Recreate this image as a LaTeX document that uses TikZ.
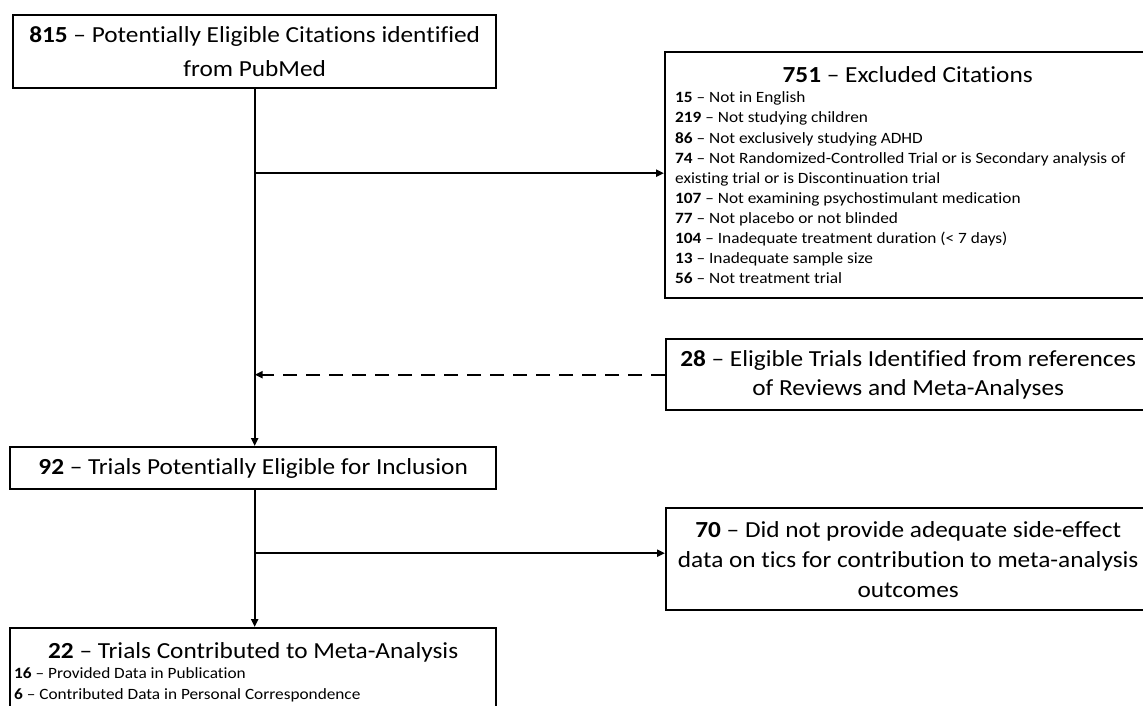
\documentclass[tikz,border=0pt]{standalone}
\usepackage{fontspec}
\setmainfont{Carlito}[FakeStretch=1.1, Ligatures=NoCommon]
\usetikzlibrary{arrows.meta}
\begin{document}
\begin{tikzpicture}[x=1pt,y=-1pt,
  box/.style={draw, line width=2.4pt, inner sep=0pt, anchor=north west, align=center},
  bigtext/.style={font=\fontsize{23}{34}\selectfont},
  arr/.style={line width=2.4pt, -{Triangle[length=8pt,width=7pt]}},
  dashline/.style={dash pattern=on 14pt off 9pt}]
\useasboundingbox (0,0) rectangle (1143,705);
\node[box, bigtext, minimum width=483pt, minimum height=73pt] (top) at (12,14)
  {\textbf{815} – Potentially Eligible Citations identified\\from PubMed};
\node[box, align=none, text width=465pt, minimum width=485pt, minimum height=246pt] (exc) at (664,51)
  {{\centering\fontsize{23}{28}\selectfont\textbf{751} – Excluded Citations\par}%
   \raggedright\fontsize{15.7}{20.05}\selectfont
   \textbf{15} – Not in English\par
   \textbf{219} – Not studying children\par
   \textbf{86} – Not exclusively studying ADHD\par
   \textbf{74} – Not Randomized-Controlled Trial or is Secondary analysis of\newline existing trial or is Discontinuation trial\par
   \textbf{107} – Not examining psychostimulant medication\par
   \textbf{77} – Not placebo or not blinded\par
   \textbf{104} – Inadequate treatment duration (< 7 days)\par
   \textbf{13} – Inadequate sample size\par
   \textbf{56} – Not treatment trial\par};
\node[box, font=\fontsize{23}{29}\selectfont, minimum width=484pt, minimum height=71pt] (ref) at (665,338)
  {\textbf{28} – Eligible Trials Identified from references\\of Reviews and Meta-Analyses};
\node[box, bigtext, minimum width=486pt, minimum height=42pt] (n92) at (9,446)
  {\textbf{92} – Trials Potentially Eligible for Inclusion};
\node[box, font=\fontsize{23}{30}\selectfont, minimum width=484pt, minimum height=102pt] (dnp) at (665,507)
  {\textbf{70} – Did not provide adequate side-effect\\data on tics for contribution to meta-analysis\\outcomes};
\node[box, align=none, text width=478pt, minimum width=486pt, minimum height=88pt] (n22) at (9,627)
  {{\centering\fontsize{23}{28}\selectfont\textbf{22} – Trials Contributed to Meta-Analysis\par}%
   \raggedright\fontsize{15.7}{20.5}\selectfont
   \textbf{16} – Provided Data in Publication\par
   \textbf{6} – Contributed Data in Personal Correspondence\par};
\draw[arr] (top.south) -- (top.south |- n92.north);
\draw[arr] ([yshift=2pt]top.south |- exc.west) -- ([yshift=2pt]exc.west);
\draw[arr, dashline] (ref.west) -- (ref.west -| top.south);
\draw[arr] (n92.south -| top.south) -- (top.south |- n22.north);
\draw[arr] ([yshift=6pt]top.south |- dnp.west) -- ([yshift=6pt]dnp.west);
\end{tikzpicture}
\end{document}
